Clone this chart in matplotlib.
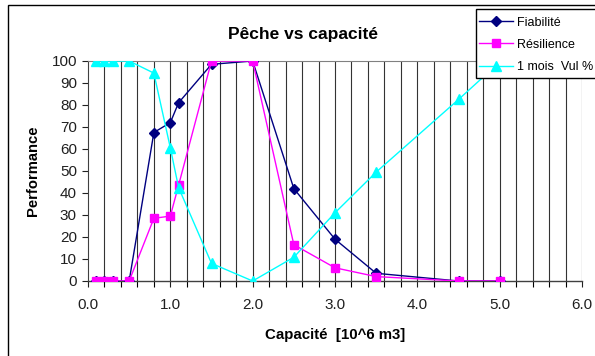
import matplotlib
matplotlib.use("Agg")
import matplotlib.pyplot as plt
from matplotlib.patches import Rectangle
import numpy as np

plt.rcParams['font.family'] = ['Liberation Sans', 'DejaVu Sans']

capacite = [0.1, 0.2, 0.3, 0.5, 0.8, 1.0, 1.1, 1.5, 2.0, 2.5, 3.0, 3.5, 4.5, 5.0]
fiabilite = [0, 0, 0, 0, 67.5, 72, 81, 98.5, 100, 42, 19, 3.5, 0, 0]
resilience = [0, 0, 0, 0, 28.5, 29.5, 43.5, 100, 100, 16.5, 6, 2, 0, 0]
vul = [100, 100, 100, 100, 94.5, 60.5, 42.5, 8, 0, 10.8, 31, 49.5, 82.5, 99.5]

x_ticks = [0, 1, 2, 3, 4, 5, 6]
y_ticks = [0, 10, 20, 30, 40, 50, 60, 70, 80, 90, 100]

W, H = 595, 356
fig = plt.figure(figsize=(W / 100, H / 100), dpi=100)
ax = fig.add_axes([88 / W, 1 - 281 / H, (582 - 88) / W, (281 - 61) / H])

# outer chart border
fig.patches.append(Rectangle((8 / W, -0.1), 1.2, (351 / H) + 0.1, transform=fig.transFigure,
                             fill=False, edgecolor='black', linewidth=1.0, zorder=0))

ax.set_xlim(0, 6)
ax.set_ylim(0, 100)

# vertical gridlines every 0.2
for gx in np.arange(0.2, 6.01, 0.2):
    ax.axvline(gx, color='#333333', linewidth=0.8, zorder=1)

l1, = ax.plot(capacite, fiabilite, color='#000080', marker='D', markersize=5, linewidth=1.0,
              label='Fiabilité', zorder=3)
l2, = ax.plot(capacite, resilience, color='#FF00FF', marker='s', markersize=6, linewidth=1.0,
              label='Résilience', zorder=4)
l3, = ax.plot(capacite, vul, color='#00FFFF', marker='^', markersize=7, linewidth=1.0,
              label='1 mois  Vul %', zorder=5)

ax.spines['right'].set_visible(False)
ax.spines['top'].set_color('#808080')
ax.spines['left'].set_color('#404040')
ax.spines['bottom'].set_color('#404040')
ax.spines['bottom'].set_linewidth(1.0)

ax.set_xticks(x_ticks)
ax.set_xticklabels([f"{v:.1f}" for v in x_ticks])
ax.set_xticks(np.arange(0, 6.01, 0.2), minor=True)
ax.set_yticks(y_ticks)
ax.tick_params(axis='both', labelsize=11, colors='#202020', direction='out', length=4, width=0.8)
ax.tick_params(axis='x', which='minor', length=4, width=0.8, direction='out')
ax.tick_params(axis='x', pad=8)
ax.tick_params(axis='y', pad=4)

ax.set_title('Pêche vs capacité', fontsize=12.5, fontweight='bold', x=(303 - 88) / (582 - 88), y=1.06)
ax.set_xlabel('Capacité  [10^6 m3]', fontsize=10.8, fontweight='bold', labelpad=12)
ax.set_ylabel('Performance', fontsize=10.6, fontweight='bold', labelpad=8)

# legend box
fig.patches.append(Rectangle((476 / W, 1 - 78 / H), 0.5, 69 / H, transform=fig.transFigure,
                             facecolor='white', edgecolor='black', linewidth=1.0, zorder=4))
leg = fig.legend(handles=[l1, l2, l3], loc='upper left', bbox_to_anchor=(479 / W, 1 - 16.5 / H),
                 fontsize=9, frameon=False, borderpad=0, labelspacing=0.82,
                 handlelength=2.7, handletextpad=0.35, borderaxespad=0)
leg.set_zorder(6)

fig.savefig('out.png', dpi=100)
